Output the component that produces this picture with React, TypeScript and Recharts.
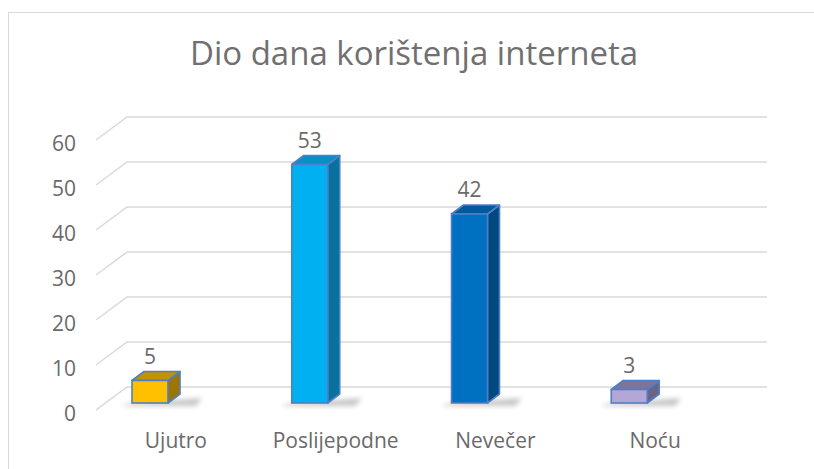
import { BarChart, Bar, XAxis, YAxis, CartesianGrid, LabelList } from 'recharts';

const categories = ['Ujutro', 'Poslijepodne', 'Nevečer', 'Noću'];
const values = [5, 53, 42, 3];
const yTicks = [0, 10, 20, 30, 40, 50, 60];

const frontColors = ['#FFC000', '#00B0F0', '#0070C0', '#B4A7D6'];
const topColors = ['#C29200', '#0590C6', '#005A9C', '#7F7399'];
const sideColors = ['#9C7600', '#07729E', '#00497F', '#6B6385'];

const data = categories.map((name, i) => ({ name, value: values[i], idx: i }));

const FONT = '"Open Sans", "Liberation Sans", sans-serif';
const TEXT = '#6a6a6a';
const OUTLINE = '#4F7FC4';

// perspective of the Excel 3D floor / walls
const SHIFT = -26; // bar front face sits left of the category centre
const DX = 12; // bar depth
const DY = 9;

function Bar3D(props: any) {
  const { x, y, width, height, payload } = props;
  const i = payload.idx;
  const fx = x + SHIFT;
  const r = fx + width;
  const b = y + height;
  return (
    <g>
      <polygon
        points={`${fx},${b} ${r + 34},${b - 5} ${r + 28},${b + 3} ${fx - 12},${b + 3}`}
        fill="#000"
        opacity={0.22}
        filter="url(#shadowBlur)"
      />
      <polygon
        points={`${r},${y} ${r + DX},${y - DY} ${r + DX},${b - DY} ${r},${b}`}
        fill={sideColors[i]}
        stroke={OUTLINE}
        strokeWidth={1.6}
        strokeLinejoin="round"
      />
      <polygon
        points={`${fx},${y} ${fx + DX},${y - DY} ${r + DX},${y - DY} ${r},${y}`}
        fill={topColors[i]}
        stroke={OUTLINE}
        strokeWidth={1.6}
        strokeLinejoin="round"
      />
      <rect x={fx} y={y} width={width} height={height} fill={frontColors[i]} stroke={OUTLINE} strokeWidth={1.6} />
    </g>
  );
}

function GridLine(props: any) {
  const { x1, x2, y1 } = props;
  const front = y1 + 7;
  const back = y1 - 16;
  return (
    <path
      key={props.key}
      d={`M${x1},${front} L${x1 + 31},${back} L${x2 + 32},${back}`}
      fill="none"
      stroke="#d9d9d9"
      strokeWidth={1.5}
    />
  );
}

function YTick(props: any) {
  const { x, y, payload } = props;
  return (
    <text x={x - 20} y={y + 7} dy={11} textAnchor="end" fill={TEXT} fontSize={21} fontFamily={FONT}>
      {payload.value}
    </text>
  );
}

function XTick(props: any) {
  const { x, y, payload } = props;
  return (
    <text x={x} y={y} dy={43} textAnchor="middle" fill={TEXT} fontSize={21} fontFamily={FONT}>
      {payload.value}
    </text>
  );
}

function ValueLabel(props: any) {
  const { x, y, width, value } = props;
  return (
    <text x={x + SHIFT + width / 2} y={y - 17} textAnchor="middle" fill={TEXT} fontSize={21} fontFamily={FONT}>
      {value}
    </text>
  );
}

export default function App() {
  return (
    <div style={{ position: 'relative', width: 814, height: 469, overflow: 'hidden', background: '#fff' }}>
      <style>{'body{margin:0}'}</style>
      <div
        style={{
          position: 'absolute',
          left: 8,
          top: 12,
          width: 830,
          height: 480,
          border: '1.5px solid #d9d9d9',
        }}
      />
      <div
        style={{
          position: 'absolute',
          left: 0,
          width: 828,
          top: 29,
          textAlign: 'center',
          fontFamily: FONT,
          fontSize: 33,
          color: '#707070',
          lineHeight: '48px',
        }}
      >
        Dio dana korištenja interneta
      </div>
      <div style={{ position: 'absolute', left: 0, top: 0 }}>
        <BarChart
          width={814}
          height={469}
          data={data}
          margin={{ top: 133, right: 79, bottom: 36, left: 36 }}
        >
          <defs>
            <filter id="shadowBlur" x="-50%" y="-200%" width="200%" height="500%">
              <feGaussianBlur stdDeviation="2.5" />
            </filter>
          </defs>
          <CartesianGrid vertical={false} horizontal={GridLine} />
          <XAxis
            dataKey="name"
            axisLine={false}
            tickLine={false}
            tickSize={0}
            height={30}
            tick={XTick}
            interval={0}
          />
          <YAxis
            domain={[0, 60]}
            ticks={yTicks}
            axisLine={false}
            tickLine={false}
            tickSize={0}
            tickMargin={0}
            width={60}
            tick={YTick}
            interval={0}
          />
          <Bar dataKey="value" barSize={36} shape={Bar3D} isAnimationActive={false}>
            <LabelList dataKey="value" content={ValueLabel} />
          </Bar>
        </BarChart>
      </div>
    </div>
  );
}
